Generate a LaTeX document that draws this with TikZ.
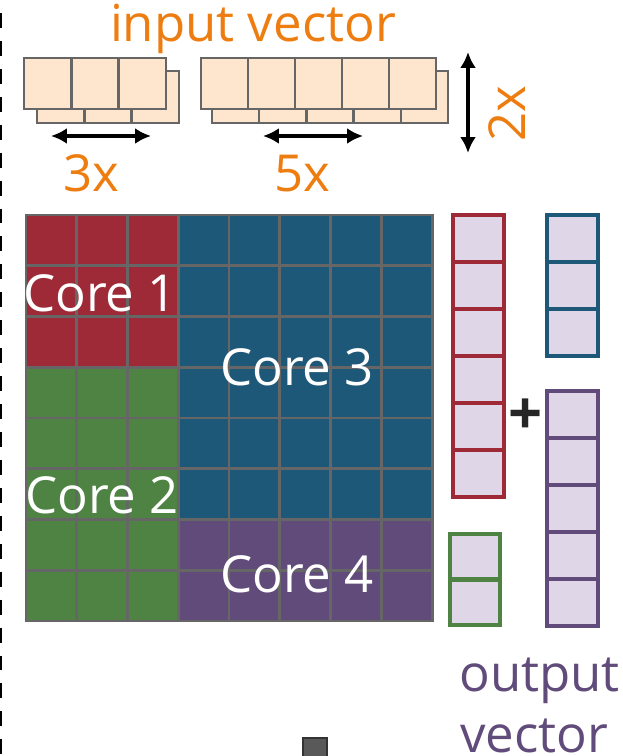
\documentclass[tikz,border=0pt]{standalone}
\usepackage{fontspec}
\setmainfont{Open Sans}
\usetikzlibrary{arrows.meta}
\definecolor{coreRed}{HTML}{9E2A37}
\definecolor{coreBlue}{HTML}{1E5878}
\definecolor{coreGreen}{HTML}{4E8344}
\definecolor{corePurple}{HTML}{604B7A}
\definecolor{vecOrange}{HTML}{EE7D11}
\definecolor{vecPeach}{HTML}{FDE5CE}
\definecolor{vecLilac}{HTML}{DFD7E7}
\definecolor{gridGray}{HTML}{666666}

\begin{document}
\begin{tikzpicture}[x=0.02cm,y=-0.02cm,
    caption/.style={font=\fontsize{29}{36}\selectfont,inner sep=0pt},
    corename/.style={caption,text=white,anchor=base},
    gridline/.style={draw=gridGray,line width=1.7pt,line cap=rect},
    inbox/.style={draw=gridGray,fill=vecPeach,line width=1.4pt},
    outcell/.style={fill=vecLilac,line width=2.3pt},
    dimen/.style={{Latex[length=9pt,width=9pt]}-{Latex[length=9pt,width=9pt]},
        line width=2.3pt},
    ]
    \useasboundingbox (0,0) rectangle (622,756);
    % separator on the left
    \draw[line width=1.4pt,dash pattern=on 8.5pt off 7.4pt] (1,13) -- (1,756);

    % input vector, two stacked copies
    \foreach \k in {0,1,2}
        \draw[inbox] ({37+47.33*\k},71) rectangle +(47.33,52);
    \foreach \k in {0,1,2}
        \draw[inbox] ({24+47.33*\k},58) rectangle +(47.33,51);
    \foreach \k in {0,...,4}
        \draw[inbox] ({212+47.2*\k},71) rectangle +(47.2,52);
    \foreach \k in {0,...,4}
        \draw[inbox] ({201+47*\k},58) rectangle +(47,51);
    \node[caption,text=vecOrange,anchor=base] (invec) at (253,42) {input vector};

    % widths and depth of the input
    \coordinate (w3l) at (51,136);
    \coordinate (w3r) at (151,136);
    \coordinate (w5l) at (263,136);
    \coordinate (w5r) at (363,136);
    \coordinate (dtop) at (468,52);
    \coordinate (dbot) at (468,153);
    \draw[dimen] (w3l) -- (w3r);
    \draw[dimen] (w5l) -- (w5r);
    \draw[dimen] (dtop) -- (dbot);
    \node[caption,text=vecOrange,anchor=base] (n3x) at (91,192) {3x};
    \node[caption,text=vecOrange,anchor=base] (n5x) at (302,192) {5x};
    \node[caption,text=vecOrange,anchor=base,rotate=90] (n2x) at (525,114) {2x};

    % weight matrix split over the cores
    \fill[coreRed]    (26,215)     rectangle (178.25,367.25);
    \fill[coreGreen]  (26,367.25)  rectangle (178.25,621);
    \fill[coreBlue]   (178.25,215) rectangle (432,519.5);
    \fill[corePurple] (178.25,519.5) rectangle (432,621);
    \foreach \k in {0,...,8} {
        \draw[gridline] ({26+50.75*\k},215) -- ({26+50.75*\k},621);
        \draw[gridline] (26,{215+50.75*\k}) -- (432,{215+50.75*\k});
    }
    \node[corename] (core1) at (100,312) {Core 1};
    \node[corename] (core2) at (102,513) {Core 2};
    \node[corename] (core3) at (297,385) {Core 3};
    \node[corename] (core4) at (297,592) {Core 4};

    % partial outputs
    \foreach \k in {0,...,5}
        \draw[outcell,draw=coreRed] (453,{215+47*\k}) rectangle +(51,47);
    \foreach \k in {0,1,2}
        \draw[outcell,draw=coreBlue] (547,{215+47*\k}) rectangle +(51,47);
    \foreach \k in {0,...,4}
        \draw[outcell,draw=corePurple] (547,{391+47*\k}) rectangle +(51,47);
    \foreach \k in {0,1}
        \draw[outcell,draw=coreGreen] (450,{534+45.5*\k}) rectangle +(50,45.5);
    \node[font=\fontsize{34}{34}\selectfont\bfseries,text=black!85,inner sep=0pt]
        (plus) at (526,417) {+};
    \node[caption,text=corePurple,anchor=base west] (outvec) at (459,691) {output};
    \node[caption,text=corePurple,anchor=base west] (outvec2) at (460,752) {vector};

    % stub of the next block
    \draw[draw=black!80,fill=black!65,line width=1.2pt] (303,738) rectangle (327,762);
\end{tikzpicture}
\end{document}
